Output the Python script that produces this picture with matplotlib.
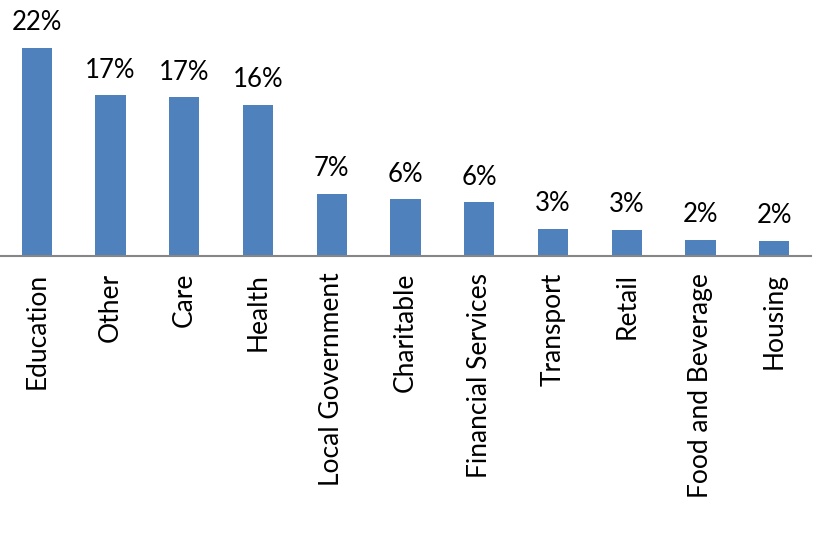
import matplotlib
matplotlib.use("Agg")
import matplotlib.pyplot as plt

categories = ["Education", "Other", "Care", "Health", "Local Government", "Charitable",
              "Financial Services", "Transport", "Retail", "Food and Beverage", "Housing"]
values = [22.0, 17.0, 16.8, 16.0, 6.6, 6.0, 5.7, 2.9, 2.8, 1.7, 1.6]

plt.rcParams['font.family'] = ['Lato', 'DejaVu Sans']

fig = plt.figure(figsize=(8.34, 5.36), dpi=100)
ax = fig.add_axes([0.0, 1 - 256/536, 811/834, 256/536])

x = list(range(len(categories)))
bars = ax.bar(x, values, width=0.41, color="#4F81BD", zorder=2)
for xi, v in zip(x, values):
    ax.annotate(f"{v:.0f}%", (xi, v), xytext=(0, 9), textcoords="offset points",
                ha="center", va="bottom", fontsize=18.5, color="black")

ax.set_xlim(-0.5, len(categories) - 0.5)
ax.set_ylim(0, 22 * 256 / 208)
ax.set_xticks(x)
ax.set_xticklabels(categories, rotation=90, fontsize=19, va="top", ha="center")
ax.tick_params(axis="x", length=0, pad=12)
ax.set_yticks([])
for s in ["top", "right", "left"]:
    ax.spines[s].set_visible(False)
ax.spines["bottom"].set_color("#868686")
ax.spines["bottom"].set_linewidth(1.5)
ax.patch.set_alpha(0)

fig.savefig("out.png", dpi=100)
